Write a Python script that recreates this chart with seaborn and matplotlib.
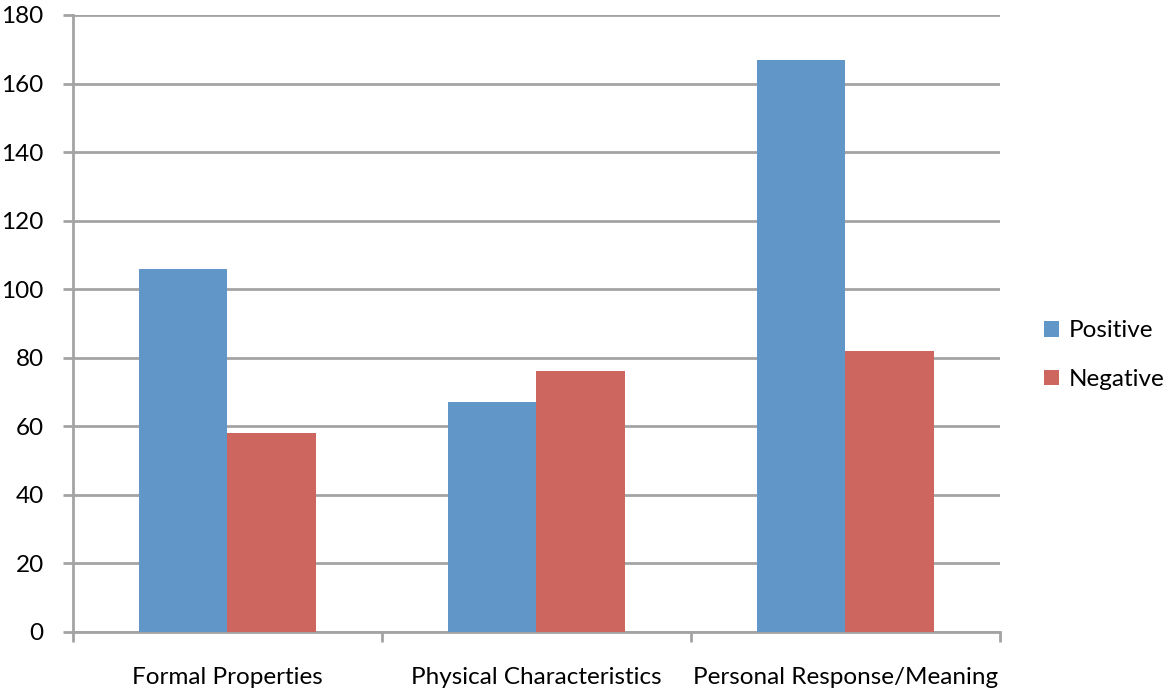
import matplotlib
matplotlib.use("Agg")
import matplotlib.pyplot as plt
import seaborn as sns
import pandas as pd

categories = ["Formal Properties", "Physical Characteristics", "Personal Response/Meaning"]
positive = [106, 67, 167]
negative = [58, 76, 82]
series_names = ["Positive", "Negative"]
y_ticks = [0, 20, 40, 60, 80, 100, 120, 140, 160, 180]

df = pd.DataFrame({
    "category": categories * 2,
    "count": positive + negative,
    "series": [series_names[0]] * 3 + [series_names[1]] * 3,
})

sns.set_theme(style="white")
plt.rcParams["font.family"] = ["Lato", "DejaVu Sans"]
plt.rcParams["text.color"] = "black"

grid_color = "#A3A3A3"
fs = 17.5
fig = plt.figure(figsize=(11.69, 6.91), dpi=100)
ax = fig.add_axes([0.0624, 0.0854, 0.7930, 0.8929])

sns.barplot(
    data=df, x="category", y="count", hue="series",
    palette=["#6196C9", "#CC665F"], width=0.57, gap=0,
    saturation=1, ax=ax, zorder=3, linewidth=0,
)

ax.set_ylim(0, 180)
ax.set_xlim(-0.5, 2.5)
ax.set_yticks(y_ticks)
ax.set_yticklabels([str(v) for v in y_ticks])
ax.yaxis.grid(True, color=grid_color, linewidth=2, zorder=0)
ax.set_axisbelow(True)

# category boundary ticks below the axis
ax.set_xticks([-0.5, 0.5, 1.5, 2.5], minor=True)
ax.tick_params(axis="x", which="major", length=0, pad=25, labelsize=fs, labelcolor="black")
ax.tick_params(axis="x", which="minor", length=7, width=2, color=grid_color, direction="out", bottom=True)
ax.tick_params(axis="y", which="major", length=7, width=2, color=grid_color, direction="out",
               left=True, pad=14, labelsize=fs, labelcolor="black")

for side in ["top", "right"]:
    ax.spines[side].set_visible(False)
for side in ["left", "bottom"]:
    ax.spines[side].set_color(grid_color)
    ax.spines[side].set_linewidth(2)

ax.set_xlabel("")
ax.set_ylabel("")

handles, labels = ax.get_legend_handles_labels()
fig.legend(handles, labels, loc="center left", bbox_to_anchor=(0.893, 0.486), frameon=False,
           fontsize=fs, handlelength=0.62, handleheight=0.62, handletextpad=0.4, labelspacing=1.15,
           borderaxespad=0, borderpad=0)
ax.get_legend().remove()

fig.savefig("out.png", dpi=100)
